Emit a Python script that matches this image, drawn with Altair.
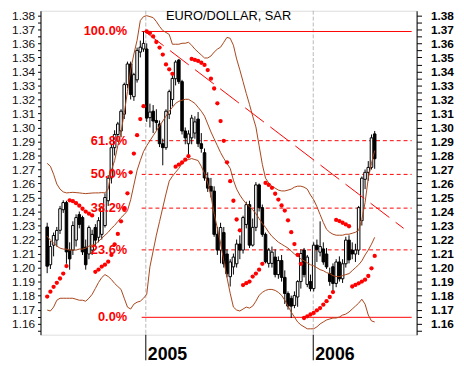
import altair as alt
import pandas as pd

# ---- weekly EUR/USD candles (Mondays from 2004-05-31) ----
opens = [1.2290, 1.2020, 1.2160, 1.2196, 1.2266, 1.2413, 1.2464, 1.2125, 1.2125, 1.2196,
         1.2378, 1.2357, 1.2146, 1.2097, 1.2125, 1.2286, 1.2216, 1.2237, 1.2300, 1.2477,
         1.2640, 1.2856, 1.2950, 1.2975, 1.3095, 1.3306, 1.3453, 1.3220, 1.3340, 1.3538,
         1.3560, 1.3560, 1.3070, 1.3116, 1.3050, 1.3025, 1.2884, 1.2856, 1.3095, 1.3200,
         1.3348, 1.3481, 1.3327, 1.2975, 1.2884, 1.2926, 1.2960, 1.3060, 1.2884, 1.2820,
         1.2638, 1.2580, 1.2546, 1.2237, 1.2125, 1.2250, 1.2097, 1.1935, 1.2005, 1.2027,
         1.2168, 1.2125, 1.2308, 1.2449, 1.2160, 1.2287, 1.2590, 1.2428, 1.2237, 1.2030,
         1.2030, 1.2075, 1.1950, 1.2050, 1.1930, 1.1815, 1.1780, 1.1730, 1.1790, 1.1900,
         1.2125, 1.1880, 1.1900, 1.1850, 1.2160, 1.2110, 1.2133, 1.2097, 1.1956, 1.2006,
         1.1887, 1.2040, 1.1920, 1.2027, 1.2196, 1.2125, 1.2097, 1.2125, 1.2335, 1.2630,
         1.2680, 1.2715, 1.2954]
highs = [1.2320, 1.2190, 1.2250, 1.2290, 1.2440, 1.2480, 1.2477, 1.2180, 1.2330, 1.2380,
         1.2400, 1.2370, 1.2200, 1.2300, 1.2270, 1.2310, 1.2360, 1.2440, 1.2530, 1.2660,
         1.2880, 1.2980, 1.3040, 1.3130, 1.3320, 1.3470, 1.3470, 1.3390, 1.3570, 1.3620,
         1.3685, 1.3600, 1.3170, 1.3160, 1.3130, 1.3050, 1.2920, 1.3130, 1.3270, 1.3370,
         1.3480, 1.3489, 1.3340, 1.3000, 1.2980, 1.3090, 1.3080, 1.3110, 1.2960, 1.2850,
         1.2680, 1.2640, 1.2580, 1.2290, 1.2320, 1.2290, 1.2130, 1.2060, 1.2100, 1.2200,
         1.2230, 1.2370, 1.2470, 1.2477, 1.2350, 1.2610, 1.2600, 1.2450, 1.2250, 1.2140,
         1.2150, 1.2130, 1.2080, 1.2090, 1.1980, 1.1830, 1.1800, 1.1830, 1.1910, 1.2130,
         1.2140, 1.2090, 1.1950, 1.2180, 1.2200, 1.2330, 1.2180, 1.2140, 1.2000, 1.2030,
         1.2060, 1.2080, 1.2060, 1.2220, 1.2230, 1.2180, 1.2170, 1.2440, 1.2650, 1.2700,
         1.2760, 1.2950, 1.2975]
lows = [1.1960, 1.1990, 1.2080, 1.2150, 1.2240, 1.2390, 1.2027, 1.1985, 1.2090, 1.2150,
        1.2280, 1.2090, 1.1985, 1.2060, 1.2090, 1.2150, 1.2180, 1.2200, 1.2286, 1.2440,
        1.2600, 1.2800, 1.2900, 1.2930, 1.3060, 1.3280, 1.3200, 1.3190, 1.3320, 1.3500,
        1.3540, 1.3040, 1.3000, 1.2960, 1.2980, 1.2860, 1.2730, 1.2840, 1.3060, 1.3150,
        1.3300, 1.3310, 1.2950, 1.2880, 1.2780, 1.2880, 1.2920, 1.2860, 1.2820, 1.2620,
        1.2540, 1.2500, 1.2220, 1.2090, 1.2030, 1.2000, 1.1930, 1.1865, 1.1950, 1.2000,
        1.2060, 1.2100, 1.2280, 1.2140, 1.2150, 1.2260, 1.2400, 1.2220, 1.2030, 1.2000,
        1.2000, 1.1930, 1.1920, 1.1900, 1.1740, 1.1700, 1.1640, 1.1710, 1.1720, 1.1850,
        1.1930, 1.1860, 1.1830, 1.1830, 1.2040, 1.2080, 1.2020, 1.1990, 1.1870, 1.1820,
        1.1860, 1.1900, 1.1890, 1.2000, 1.2030, 1.2060, 1.2040, 1.2090, 1.2300, 1.2560,
        1.2620, 1.2700, 1.2705]
closes = [1.2010, 1.2150, 1.2229, 1.2265, 1.2420, 1.2464, 1.2112, 1.2062, 1.2300, 1.2357,
          1.2308, 1.2112, 1.2020, 1.2286, 1.2237, 1.2196, 1.2335, 1.2427, 1.2500, 1.2638,
          1.2856, 1.2950, 1.3025, 1.3116, 1.3306, 1.3453, 1.3235, 1.3377, 1.3550, 1.3573,
          1.3600, 1.3067, 1.3110, 1.3046, 1.3035, 1.2884, 1.2856, 1.3116, 1.3256, 1.3350,
          1.3467, 1.3327, 1.2975, 1.2926, 1.2954, 1.3067, 1.3040, 1.2884, 1.2850, 1.2640,
          1.2567, 1.2546, 1.2237, 1.2125, 1.2286, 1.2027, 1.1956, 1.2040, 1.2075, 1.2168,
          1.2125, 1.2357, 1.2449, 1.2160, 1.2287, 1.2590, 1.2428, 1.2237, 1.2041, 1.2125,
          1.2110, 1.1950, 1.2050, 1.1930, 1.1815, 1.1725, 1.1725, 1.1800, 1.1900, 1.2100,
          1.1950, 1.2075, 1.1850, 1.2160, 1.2130, 1.2150, 1.2040, 1.2005, 1.1900, 1.1887,
          1.2040, 1.1920, 1.2027, 1.2196, 1.2055, 1.2097, 1.2125, 1.2428, 1.2638, 1.2680,
          1.2715, 1.2926, 1.2777]
sar = [1.1793, 1.1828, 1.1863, 1.1891, 1.1922, 1.1957, 1.2011, 1.2480, 1.2474, 1.2460,
       1.2442, 1.2420, 1.2400, 1.2385, 1.2372, 1.1970, 1.1986, 1.2007, 1.2021, 1.2042,
       1.2090, 1.2166, 1.2240, 1.2330, 1.2420, 1.2530, 1.2680, 1.2814, 1.2945, 1.3060,
       1.3152, 1.3685, 1.3675, 1.3650, 1.3610, 1.3570, 1.3520, 1.3450, 1.3415, 1.3383,
       1.2720, 1.2735, 1.2750, 1.2770, 1.2795, 1.3489, 1.3482, 1.3475, 1.3462, 1.3446,
       1.3410, 1.3348, 1.3278, 1.3172, 1.3046, 1.2905, 1.2751, 1.2617, 1.2477, 1.2343,
       1.2266, 1.1875, 1.1889, 1.1900, 1.1936, 1.1957, 1.1985, 1.2027, 1.2604, 1.2590,
       1.2569, 1.2527, 1.2485, 1.2443, 1.2407, 1.2337, 1.2253, 1.2168, 1.2090, 1.2027,
       1.1640, 1.1652, 1.1665, 1.1676, 1.1695, 1.1711, 1.1735, 1.1760, 1.1790, 1.1825,
       1.2340, 1.2332, 1.2320, 1.2308, 1.2295, 1.1865, 1.1876, 1.1888, 1.1900, 1.1914,
       1.1940, 1.1995, 1.2083]
bb_upper = [1.2744, 1.2723, 1.2666, 1.2596, 1.2560, 1.2540, 1.2533, 1.2535, 1.2537, 1.2535,
            1.2533, 1.2530, 1.2528, 1.2530, 1.2532, 1.2533, 1.2533, 1.2535, 1.2533, 1.2560,
            1.2694, 1.2764, 1.2870, 1.2968, 1.3102, 1.3257, 1.3411, 1.3524, 1.3622, 1.3763,
            1.3791, 1.3798, 1.3791, 1.3784, 1.3756, 1.3721, 1.3692, 1.3678, 1.3664, 1.3594,
            1.3594, 1.3594, 1.3601, 1.3601, 1.3608, 1.3587, 1.3559, 1.3538, 1.3517, 1.3496,
            1.3496, 1.3510, 1.3538, 1.3559, 1.3573, 1.3608, 1.3643, 1.3636, 1.3587, 1.3489,
            1.3411, 1.3327, 1.3243, 1.3165, 1.3081, 1.3004, 1.2870, 1.2737, 1.2638, 1.2603,
            1.2581, 1.2567, 1.2553, 1.2547, 1.2547, 1.2553, 1.2560, 1.2574, 1.2581, 1.2581,
            1.2574, 1.2560, 1.2518, 1.2484, 1.2435, 1.2378, 1.2322, 1.2273, 1.2252, 1.2238,
            1.2231, 1.2231, 1.2231, 1.2238, 1.2238, 1.2245, 1.2252, 1.2266, 1.2343, 1.2463,
            1.2638, 1.2744, 1.2835]
bb_mid = [1.2224, 1.2196, 1.2175, 1.2153, 1.2139, 1.2132, 1.2132, 1.2125, 1.2125, 1.2125,
          1.2132, 1.2132, 1.2139, 1.2153, 1.2160, 1.2167, 1.2188, 1.2209, 1.2231, 1.2252,
          1.2280, 1.2301, 1.2329, 1.2357, 1.2378, 1.2406, 1.2484, 1.2590, 1.2694, 1.2764,
          1.2828, 1.2870, 1.2905, 1.2941, 1.2976, 1.3011, 1.3046, 1.3081, 1.3116, 1.3144,
          1.3172, 1.3187, 1.3194, 1.3201, 1.3201, 1.3187, 1.3172, 1.3144, 1.3116, 1.3081,
          1.3025, 1.2968, 1.2919, 1.2870, 1.2821, 1.2779, 1.2743, 1.2708, 1.2624, 1.2560,
          1.2518, 1.2484, 1.2456, 1.2435, 1.2413, 1.2385, 1.2350, 1.2314, 1.2287, 1.2252,
          1.2223, 1.2202, 1.2181, 1.2167, 1.2153, 1.2139, 1.2118, 1.2097, 1.2083, 1.2062,
          1.2048, 1.2034, 1.2020, 1.2013, 1.1999, 1.1985, 1.1978, 1.1964, 1.1957, 1.1943,
          1.1936, 1.1936, 1.1943, 1.1950, 1.1957, 1.1978, 1.1999, 1.2020, 1.2048, 1.2090,
          1.2125, 1.2167, 1.2216]
bb_lower = [1.1697, 1.1690, 1.1718, 1.1767, 1.1781, 1.1781, 1.1781, 1.1781, 1.1781, 1.1774,
            1.1767, 1.1767, 1.1760, 1.1781, 1.1809, 1.1851, 1.1894, 1.1929, 1.1950, 1.1936,
            1.1915, 1.1887, 1.1865, 1.1844, 1.1781, 1.1718, 1.1704, 1.1739, 1.1753, 1.1760,
            1.1781, 1.1809, 1.2006, 1.2118, 1.2231, 1.2329, 1.2428, 1.2526, 1.2617, 1.2652,
            1.2680, 1.2708, 1.2743, 1.2764, 1.2771, 1.2778, 1.2771, 1.2764, 1.2722, 1.2673,
            1.2603, 1.2512, 1.2385, 1.2280, 1.2174, 1.2048, 1.1929, 1.1816, 1.1718, 1.1697,
            1.1690, 1.1704, 1.1718, 1.1711, 1.1725, 1.1760, 1.1802, 1.1823, 1.1837, 1.1844,
            1.1844, 1.1837, 1.1823, 1.1802, 1.1767, 1.1725, 1.1683, 1.1647, 1.1612, 1.1591,
            1.1577, 1.1563, 1.1563, 1.1563, 1.1577, 1.1598, 1.1612, 1.1626, 1.1633, 1.1640,
            1.1640, 1.1647, 1.1661, 1.1668, 1.1683, 1.1704, 1.1725, 1.1746, 1.1774, 1.1739,
            1.1661, 1.1619, 1.1612]

first_week = "2004-05-31"
origin = pd.Timestamp("2005-01-01")
weeks = pd.date_range(first_week, periods=len(closes), freq="7D")
days = [int((w - origin).days) for w in weeks]

df = pd.DataFrame({
    "day": days, "open": opens, "high": highs, "low": lows, "close": closes,
    "sar": sar, "upper": bb_upper, "mid": bb_mid, "lower": bb_lower,
})

# ---- Fibonacci retracement ----
fib_high = 1.3685
fib_low = 1.1645
fib_pcts = [100.0, 61.8, 50.0, 38.2, 23.6, 0.0]
fib_labels = ["100.0%", "61.8%", "50.0%", "38.2%", "23.6%", "0.0%"]
fib_start = "2004-12-23"

X_MIN, X_MAX = -218.86, 579.64
Y_MIN, Y_MAX = 1.1521, 1.3833

fib_df = pd.DataFrame({
    "level": [fib_low + p / 100.0 * (fib_high - fib_low) for p in fib_pcts],
    "label": fib_labels,
    "solid": [p in (0.0, 100.0) for p in fib_pcts],
})
fib_df["start"] = int((pd.Timestamp(fib_start) - origin).days)
fib_df["end"] = X_MAX

# ---- trend line ----
trend_dates = ["2004-12-30", "2006-07-17"]
trend_values = [1.3685, 1.2280]
trend_df = pd.DataFrame({
    "day": [int((pd.Timestamp(d) - origin).days) for d in trend_dates],
    "v": trend_values,
})

# ---- axes ----
month_days = [int((m - origin).days) for m in pd.date_range("2004-06-01", "2006-08-01", freq="MS")]
years = ["2005", "2006"]
year_df = pd.DataFrame({
    "day": [int((pd.Timestamp(y + "-01-01") - origin).days) for y in years],
    "label": years,
})
y_ticks = [round(1.155 + 0.005 * k, 3) for k in range(46)]

FONT = "Liberation Sans"
RED = "#ff0000"
BROWN = "#a8441a"

xs = alt.Scale(domain=[X_MIN, X_MAX], nice=False, zero=False)
ys = alt.Scale(domain=[Y_MIN, Y_MAX], nice=False, zero=False)

x_axis = alt.Axis(values=month_days, labels=False, tickSize=7, tickColor="black",
                  domainColor="black", grid=False, title=None)
left_axis = alt.Axis(orient="left", values=y_ticks, grid=False, title=None,
                     labelExpr="(round(datum.value*1000) % 10 == 0) ? format(datum.value, '.2f') : ''",
                     tickSize=3, labelPadding=3, labelFont=FONT, labelFontSize=12,
                     labelColor="#111111", tickColor="black", domainColor="black",
                     labelOverlap=False, labelBound=False, labelFlush=False)
right_axis = alt.Axis(orient="right", values=y_ticks, grid=False, title=None,
                      labelExpr="(round(datum.value*1000) % 10 == 0) ? format(datum.value, '.2f') : ''",
                      tickSize=5, labelPadding=9, labelFont=FONT, labelFontSize=12,
                      labelFontWeight="bold", labelColor="black", tickColor="black",
                      domainColor="black", labelOverlap=False, labelBound=False,
                      labelFlush=False)

base = alt.Chart(df)

year_lines = alt.Chart(year_df).mark_rule(color="#b8b8b8", strokeDash=[4, 2]).encode(
    x=alt.X("day:Q", scale=xs, axis=x_axis), y=alt.value(0), y2=alt.value(329))

fib_solid = alt.Chart(fib_df[fib_df["solid"]]).mark_rule(color=RED, strokeWidth=1).encode(
    x=alt.X("start:Q", scale=xs, axis=None), x2="end:Q",
    y=alt.Y("level:Q", scale=ys, axis=None))
fib_dash = alt.Chart(fib_df[~fib_df["solid"]]).mark_rule(color=RED, strokeWidth=1, strokeDash=[4, 3]).encode(
    x=alt.X("start:Q", scale=xs, axis=None), x2="end:Q",
    y=alt.Y("level:Q", scale=ys, axis=None))

wicks = base.mark_rule(color="black", strokeWidth=1).encode(
    x=alt.X("day:Q", scale=xs, axis=None),
    y=alt.Y("low:Q", scale=ys, axis=left_axis), y2="high:Q")
bodies = base.mark_bar(size=2.6, stroke="black", strokeWidth=1).encode(
    x=alt.X("day:Q", scale=xs, axis=None),
    y=alt.Y("open:Q", scale=ys, axis=None), y2="close:Q",
    fill=alt.condition("datum.open > datum.close", alt.value("black"), alt.value("white")))

bands = [
    base.mark_line(color=BROWN, strokeWidth=1).encode(
        x=alt.X("day:Q", scale=xs, axis=None), y=alt.Y(f"{c}:Q", scale=ys, axis=None))
    for c in ["upper", "mid", "lower"]
]

trend = alt.Chart(trend_df).mark_line(color=RED, strokeWidth=1, strokeDash=[24, 8]).encode(
    x=alt.X("day:Q", scale=xs, axis=None), y=alt.Y("v:Q", scale=ys, axis=None))

sar_pts = base.mark_circle(size=19, color=RED, opacity=1).encode(
    x=alt.X("day:Q", scale=xs, axis=None),
    y=alt.Y("sar:Q", scale=ys, axis=right_axis))

fib_text = alt.Chart(fib_df).mark_text(align="right", baseline="middle", color=RED,
                                       font=FONT, fontSize=13, fontWeight="bold").encode(
    x=alt.value(88), y=alt.Y("level:Q", scale=ys, axis=None), text="label:N")

title = alt.Chart(pd.DataFrame({"t": ["EURO/DOLLAR, SAR"]})).mark_text(
    align="center", baseline="alphabetic", font=FONT, fontSize=13, color="black").encode(
    x=alt.value(191), y=alt.value(9.5), text="t:N")

year_ticks = alt.Chart(year_df).mark_rule(color="black", strokeWidth=1).encode(
    x=alt.X("day:Q", scale=xs, axis=None), y=alt.value(329), y2=alt.value(355))
year_text = alt.Chart(year_df).mark_text(align="left", baseline="alphabetic", dx=2,
                                         font=FONT, fontSize=18, fontWeight="bold",
                                         color="black").encode(
    x=alt.X("day:Q", scale=xs, axis=None), y=alt.value(355), text="label:N")

chart = alt.layer(
    year_lines, fib_solid, fib_dash, wicks, bodies, *bands, trend, sar_pts,
    fib_text, title, year_ticks, year_text,
).resolve_axis(y="independent").properties(
    width=382, height=329,
    autosize=alt.AutoSizeParams(type="none"),
    padding={"left": 33, "top": 0, "right": 40, "bottom": 29},
).configure_view(stroke=None).configure(background="white")

chart.save("out.html", embed_options={"renderer": "svg", "actions": False})
